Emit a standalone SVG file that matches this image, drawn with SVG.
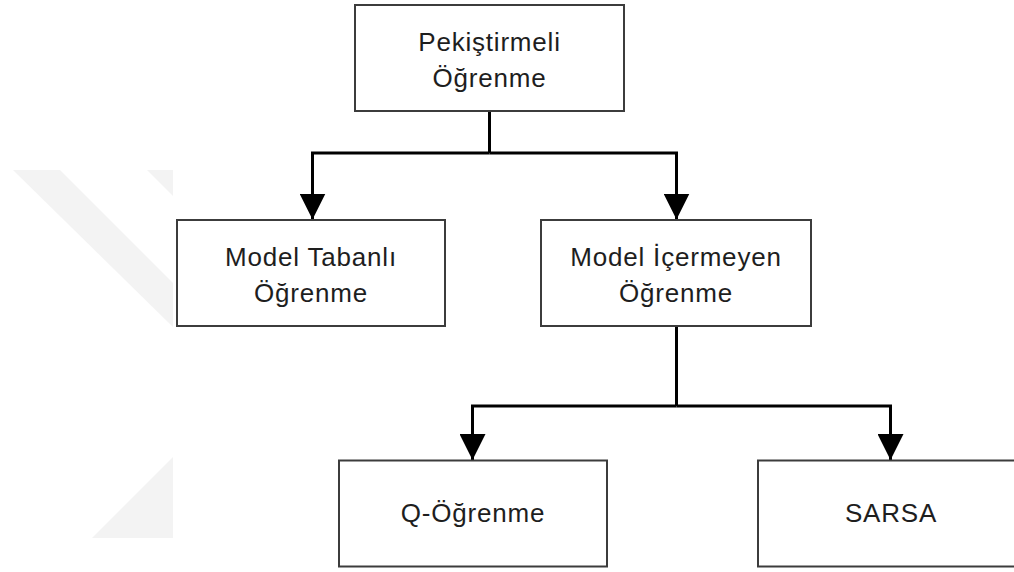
<svg xmlns="http://www.w3.org/2000/svg" width="1014" height="572" viewBox="0 0 1014 572">
  <style>
    .box { fill: #ffffff; stroke: #3c3c3c; stroke-width: 2; }
    .lbl { font-family: "Liberation Sans", Arial, sans-serif; font-size: 26px; fill: #1e1e1e; text-anchor: middle; letter-spacing: 0.8px; }
    .conn { fill: none; stroke: #000000; stroke-width: 3; stroke-linejoin: miter; }
    .wm { fill: #f3f3f3; }
  </style>
  <defs>
    <marker id="arrow" viewBox="0 0 26 26" markerWidth="26" markerHeight="26" markerUnits="userSpaceOnUse" refX="26" refY="13" orient="auto">
      <path d="M0,0 L26,13 L0,26 z" fill="#000000"/>
    </marker>
  </defs>
  <rect x="0" y="0" width="1014" height="572" fill="#ffffff"/>
  <g id="watermark">
    <polygon class="wm" points="13,170 60,170 173,283 173,327"/>
    <polygon class="wm" points="147,170 173,170 173,196"/>
    <polygon class="wm" points="92,538 173,457 173,538"/>
  </g>
  <g id="connectors">
    <path class="conn" d="M489.5,111 V153"/>
    <path class="conn" d="M489.5,153 H312.5 V219.5" marker-end="url(#arrow)"/>
    <path class="conn" d="M489.5,153 H676.5 V219.5" marker-end="url(#arrow)"/>
    <path class="conn" d="M676.5,326 V406"/>
    <path class="conn" d="M676.5,406 H472.5 V460" marker-end="url(#arrow)"/>
    <path class="conn" d="M676.5,406 H890.5 V460" marker-end="url(#arrow)"/>
  </g>
  <g id="n-pekistirmeli">
    <rect class="box" x="355" y="5" width="269" height="106"/>
    <text class="lbl" x="489.5" y="51">Pekiştirmeli</text>
    <text class="lbl" x="489.5" y="87">Öğrenme</text>
  </g>
  <g id="n-model-tabanli">
    <rect class="box" x="177" y="220" width="268" height="106"/>
    <text class="lbl" x="311" y="266">Model Tabanlı</text>
    <text class="lbl" x="311" y="302">Öğrenme</text>
  </g>
  <g id="n-model-icermeyen">
    <rect class="box" x="541" y="220" width="270" height="106"/>
    <text class="lbl" x="676" y="266">Model İçermeyen</text>
    <text class="lbl" x="676" y="302">Öğrenme</text>
  </g>
  <g id="n-q-ogrenme">
    <rect class="box" x="339" y="460.5" width="268" height="106"/>
    <text class="lbl" x="473" y="522">Q-Öğrenme</text>
  </g>
  <g id="n-sarsa">
    <rect class="box" x="758" y="460.5" width="270" height="106"/>
    <text class="lbl" x="891" y="522">SARSA</text>
  </g>
</svg>
